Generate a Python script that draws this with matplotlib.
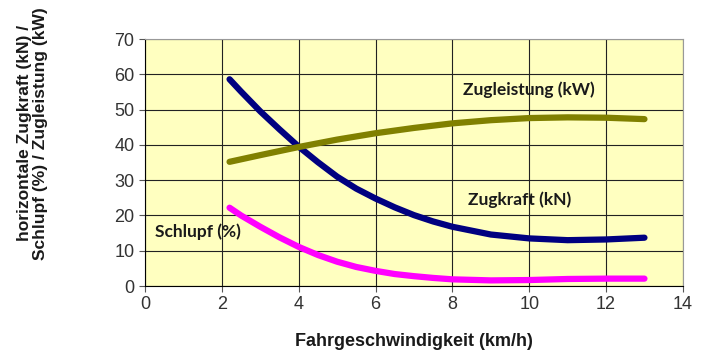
import matplotlib.pyplot as plt

# Daten
v_kraft = [2.2, 2.5, 3, 3.5, 4, 4.5, 5, 5.5, 6, 6.5, 7, 7.5, 8, 9, 10, 11, 12, 13]
zugkraft = [58.6, 55.1, 49.5, 44.4, 39.5, 35.1, 31.0, 27.6, 24.8, 22.3, 20.1, 18.3, 16.8, 14.6, 13.5, 13.0, 13.2, 13.7]

v_leistung = [2.2, 3, 4, 5, 6, 7, 8, 9, 10, 11, 12, 13]
zugleistung = [35.2, 37.1, 39.4, 41.5, 43.3, 44.8, 46.1, 47.0, 47.6, 47.8, 47.7, 47.3]

v_schlupf = [2.2, 2.5, 3, 3.5, 4, 4.5, 5, 5.5, 6, 6.5, 7, 7.5, 8, 9, 10, 11, 12, 13]
schlupf = [22.2, 20.0, 16.8, 13.8, 11.1, 8.8, 6.9, 5.4, 4.3, 3.4, 2.8, 2.3, 1.9, 1.6, 1.7, 2.0, 2.1, 2.1]

fig = plt.figure(figsize=(7.04, 3.58), dpi=100)
ax = fig.add_axes([0.206, 0.201, 0.764, 0.690])
ax.set_facecolor('#FFFFC0')

ax.plot(v_kraft, zugkraft, color='#000080', lw=4.5, solid_capstyle='round', solid_joinstyle='round')
ax.plot(v_leistung, zugleistung, color='#808000', lw=4.5, solid_capstyle='round', solid_joinstyle='round')
ax.plot(v_schlupf, schlupf, color='#FF00FF', lw=4.5, solid_capstyle='round', solid_joinstyle='round')

ax.set_xlim(0, 14)
ax.set_ylim(0, 70)
ax.set_xticks(range(0, 15, 2))
ax.set_yticks(range(0, 71, 10))
ax.grid(True, color='#222222', lw=0.8)
ax.set_axisbelow(True)
for s in ['top', 'right']:
    ax.spines[s].set_color('#999999')
ax.tick_params(labelsize=13, length=4, color='#555555', labelcolor='#333333')
for lab in ax.get_xticklabels() + ax.get_yticklabels():
    lab.set_family(['Liberation Sans', 'DejaVu Sans'])

lblfont = dict(family=['Lato', 'DejaVu Sans'], fontweight='bold', fontsize=12.5, color='#1a1a1a')
ax.text(10.0, 55.5, 'Zugleistung (kW)', ha='center', va='center', **lblfont)
ax.text(9.75, 24.4, 'Zugkraft (kN)', ha='center', va='center', **lblfont)
ax.text(0.26, 15.3, 'Schlupf (%)', ha='left', va='center', **lblfont)

ax.set_xlabel('Fahrgeschwindigkeit (km/h)', fontsize=13, fontweight='bold', color='#1a1a1a',
              family=['Liberation Sans', 'DejaVu Sans'], labelpad=14)
fig.text(0.046, 0.628, 'horizontale Zugkraft (kN) /\nSchlupf (%) / Zugleistung (kW)',
         rotation=90, ha='center', va='center', fontsize=12.5, fontweight='bold', color='#1a1a1a',
         family=['Liberation Sans', 'DejaVu Sans'], linespacing=1.05)

fig.savefig('out.png', dpi=100)
